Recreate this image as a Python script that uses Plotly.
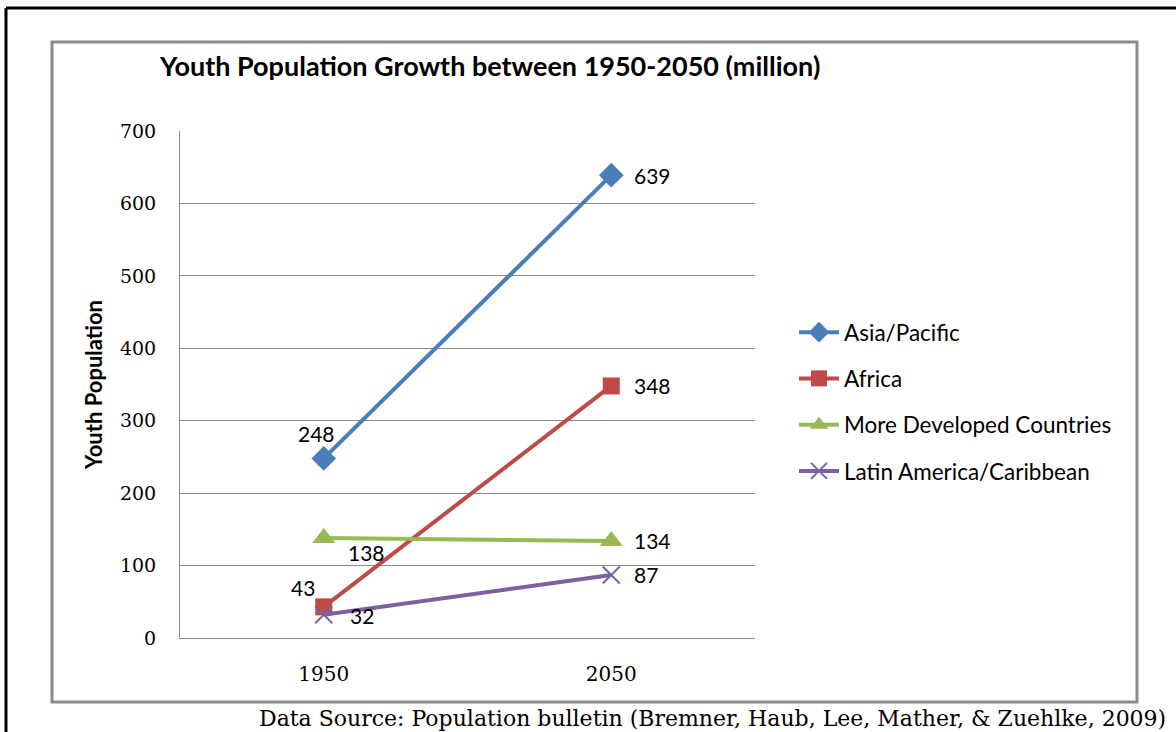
import plotly.graph_objects as go

# Youth population (million) by region
years = ["1950", "2050"]
regions = ["Asia/Pacific", "Africa", "More Developed Countries", "Latin America/Caribbean"]
asia_pacific = [248, 639]
africa = [43, 348]
more_developed = [138, 134]
latin_america = [32, 87]
y_ticks = [0, 100, 200, 300, 400, 500, 600, 700]

series = [asia_pacific, africa, more_developed, latin_america]
colors = ["#4A7EBB", "#BE4B48", "#98B954", "#7D60A0"]
symbols = ["diamond", "square", "triangle-up", "x-thin"]
sizes = [19, 17, 20, 17]

# pixel geometry of the plot area inside the 1176x732 page
W, H = 1176, 732
PL, PR, PT, PB = 180, 755, 131, 638


def px_x(p):
    return (p - PL) / (PR - PL)


def px_y(p):
    return (PB - p) / (PB - PT)


fig = go.Figure()
for name, vals, col, sym, sz in zip(regions, series, colors, symbols, sizes):
    marker = dict(symbol=sym, size=sz, color=col)
    if sym == "x-thin":
        marker["line"] = dict(color=col, width=2)
    fig.add_trace(go.Scatter(
        x=years, y=vals, name=name, mode="lines+markers",
        line=dict(color=col, width=4), marker=marker,
        legendgroup=name,
    ))

# data labels: (x offset, y offset, anchor) for the 1950 point; 2050 labels sit to the right
first_offsets = [(-7, 25, "center"), (-21, 19, "center"), (22, -14, "left"), (24, -1, "left")]
label_font = dict(family="Lato", size=21, color="#000000")
for vals, (dx, dy, anc) in zip(series, first_offsets):
    # category axis: annotation x is the category index
    fig.add_annotation(x=0, y=vals[0], text=str(vals[0]), showarrow=False,
                       xanchor=anc, yanchor="middle", xshift=dx, yshift=dy, font=label_font)
    fig.add_annotation(x=1, y=vals[1], text=str(vals[1]), showarrow=False,
                       xanchor="left", yanchor="middle", xshift=21, yshift=0, font=label_font)

# inner chart frame (grey) and outer page frame (black)
fig.add_shape(type="rect", xref="paper", yref="paper",
              x0=px_x(52), x1=px_x(1137), y0=px_y(702), y1=px_y(42),
              line=dict(color="#8A8A8A", width=3), layer="below")
fig.add_shape(type="line", xref="paper", yref="paper",
              x0=px_x(6), x1=px_x(6), y0=px_y(8), y1=px_y(740),
              line=dict(color="#000000", width=3))
fig.add_shape(type="line", xref="paper", yref="paper",
              x0=px_x(6), x1=px_x(1180), y0=px_y(8), y1=px_y(8),
              line=dict(color="#000000", width=3))

# source note under the chart
fig.add_annotation(xref="paper", yref="paper", x=px_x(1168), y=px_y(718),
                   text="Data Source: Population bulletin (Bremner, Haub, Lee, Mather, &amp; Zuehlke, 2009)",
                   showarrow=False, xanchor="right", yanchor="middle",
                   font=dict(family="DejaVu Serif", size=22, color="#000000"))

fig.update_layout(
    width=W, height=H,
    margin=dict(l=PL, r=W - PR, t=PT, b=H - PB, pad=0),
    paper_bgcolor="white", plot_bgcolor="white",
    title=dict(text="<b>Youth Population Growth between 1950-2050 (million)</b>",
               x=160 / W, xanchor="left", xref="container",
               y=1 - 67 / H, yanchor="middle",
               font=dict(family="Lato", size=27, color="#000000")),
    legend=dict(x=px_x(794), y=px_y(311), xanchor="left", yanchor="top",
                font=dict(family="Lato", size=22.5, color="#000000"),
                traceorder="grouped", tracegroupgap=14,
                bgcolor="rgba(0,0,0,0)", itemwidth=40),
    showlegend=True,
)

fig.update_xaxes(type="category", range=[-0.5, 1.5], showgrid=False,
                 showline=True, linecolor="#8A8A8A", linewidth=1,
                 ticks="outside", ticklen=18, tickcolor="rgba(0,0,0,0)",
                 tickfont=dict(family="DejaVu Serif", size=20, color="#000000"),
                 zeroline=False, fixedrange=True)
fig.update_yaxes(range=[0, 700], tickvals=y_ticks, ticktext=[str(v) for v in y_ticks],
                 showgrid=True, gridcolor="#8A8A8A", gridwidth=1,
                 showline=True, linecolor="#8A8A8A", linewidth=1,
                 ticks="outside", ticklen=19, tickcolor="rgba(0,0,0,0)",
                 tickfont=dict(family="DejaVu Serif", size=19, color="#000000"),
                 zeroline=False,
                 title=dict(text="<b>Youth Population</b>", standoff=11,
                            font=dict(family="Lato", size=22, color="#000000")))

fig.write_html("out.html")
